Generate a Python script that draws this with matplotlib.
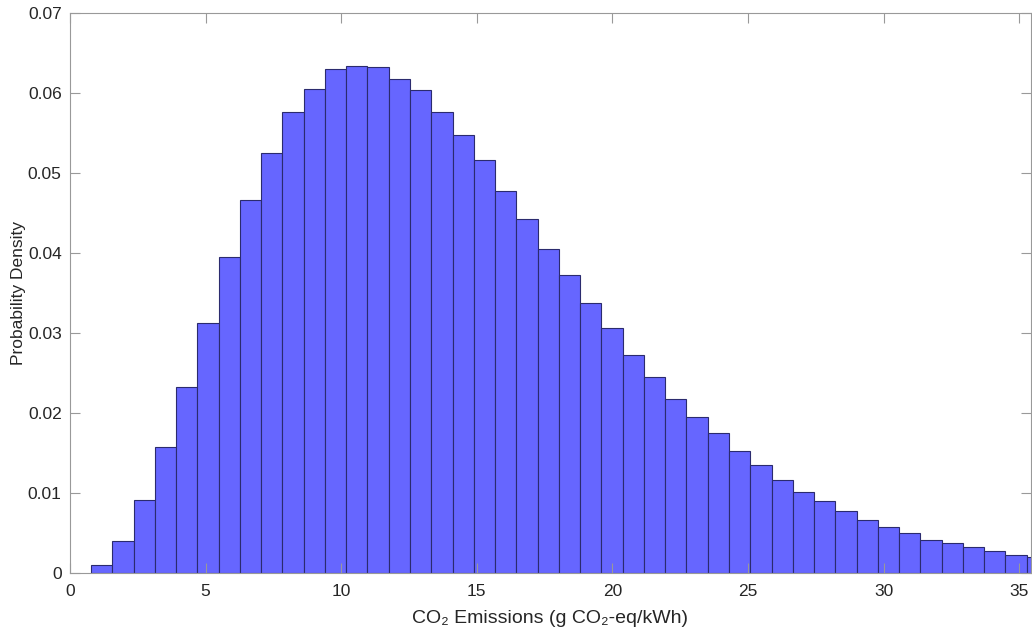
import numpy as np
import matplotlib
matplotlib.use("Agg")
import matplotlib.pyplot as plt

plt.rcParams['font.family'] = ['Liberation Sans', 'DejaVu Sans']

# histogram data (probability density per bin)
bin_start = 0.775
bin_width = 0.784
density = [0.00096, 0.0040, 0.0091, 0.01575, 0.0233, 0.0313, 0.0395, 0.0466,
           0.0525, 0.0576, 0.0605, 0.0630, 0.0634, 0.0632, 0.0618, 0.0604,
           0.0576, 0.0547, 0.0516, 0.0477, 0.0443, 0.0405, 0.0373, 0.0338,
           0.0306, 0.0272, 0.0245, 0.0217, 0.0195, 0.0175, 0.0152, 0.0135,
           0.0116, 0.0101, 0.0090, 0.0077, 0.0066, 0.0057, 0.0050, 0.0041,
           0.0037, 0.0032, 0.00275, 0.0023, 0.0020]

x_ticks = [0, 5, 10, 15, 20, 25, 30, 35]
y_ticks = [0, 0.01, 0.02, 0.03, 0.04, 0.05, 0.06, 0.07]
y_ticklabels = ['0', '0.01', '0.02', '0.03', '0.04', '0.05', '0.06', '0.07']

fig = plt.figure(figsize=(10.32, 6.3), dpi=100)
ax = fig.add_axes([70/1032, 57/630, 961/1032, 560/630])

lefts = bin_start + bin_width * np.arange(len(density))
ax.bar(lefts, density, width=bin_width, align='edge',
       color='#6666ff', edgecolor='#2b2b6e', linewidth=0.8)

ax.set_xlim(0, 35.43)
ax.set_ylim(0, 0.07)
ax.set_xticks(x_ticks)
ax.set_yticks(y_ticks)
ax.set_yticklabels(y_ticklabels)

axis_col = '#999999'
for s in ax.spines.values():
    s.set_color(axis_col)
    s.set_linewidth(0.8)
ax.tick_params(direction='in', length=7, width=0.8, color=axis_col,
               labelcolor='#262626', labelsize=12.5, top=True, right=True)
ax.tick_params(axis='x', pad=8)
ax.tick_params(axis='y', pad=6)

ax.set_xlabel('CO\u2082 Emissions (g CO\u2082-eq/kWh)', fontsize=14,
              color='#262626', labelpad=8)
ax.set_ylabel('Probability Density', fontsize=12.5, color='#262626', labelpad=1)

fig.savefig('out.png', dpi=100)
